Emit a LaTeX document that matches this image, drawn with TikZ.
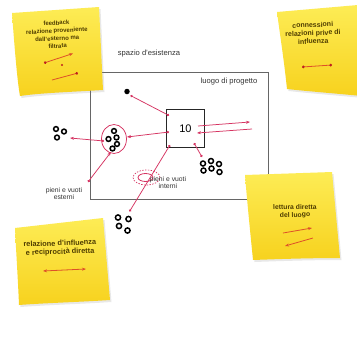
\documentclass[tikz,border=0pt]{standalone}
\usepackage{fontspec}
\setmainfont{Liberation Sans}
\usetikzlibrary{arrows.meta,shadows,shapes.geometric}
\definecolor{pk}{RGB}{214,52,98}
\definecolor{ntop}{RGB}{253,236,85}
\definecolor{nbot}{RGB}{247,210,30}
\definecolor{ntext}{RGB}{78,60,0}
\definecolor{nline}{RGB}{222,80,40}
\definecolor{ndot}{RGB}{190,30,30}
\begin{document}
\begin{tikzpicture}[x=1pt,y=-1pt,
  note/.style={top color=ntop,bottom color=nbot,draw=none,
    drop shadow={opacity=0.18,shadow xshift=1.5pt,shadow yshift=-2pt}},
  notetext/.style={align=center,text=ntext,inner sep=0pt,
    font=\fontsize{6.8}{7.6}\selectfont\bfseries},
  label/.style={text=black!80,inner sep=0pt,font=\fontsize{7.6}{8}\selectfont},
  small/.style={text=black!80,inner sep=0pt,align=center,font=\fontsize{6.8}{7.4}\selectfont},
  rl/.style={draw=pk,line width=0.75pt},
  nl/.style={draw=nline,line width=0.8pt},
  ring/.style={draw=black,line width=1.5pt},
  tipdot/.tip={Circle[length=2.4pt]},
  tiparr/.tip={Stealth[length=4pt,width=3pt]}]
\useasboundingbox (0,0) rectangle (357,341);
\fill[white] (0,0) rectangle (357,341);

% frame of the site
\node[draw=black!60,line width=1pt,minimum width=178pt,minimum height=127pt,
  anchor=north west,inner sep=0pt] (luogo) at (90,72) {};
\node[label] (ltxt) at (229,82) {luogo di progetto};
\node[label] (spazio) at (149,54) {spazio d'esistenza};

% central square
\node[draw=black!85,line width=1.5pt,minimum size=38pt,inner sep=0pt] (sq) at (185.5,128.5)
  {\fontsize{11}{11}\selectfont 10};

% ellipse cluster
\node[ellipse,rl,minimum width=25pt,minimum height=29pt,inner sep=0pt] (ell) at (114,139) {};
\foreach \p in {(114,131),(108.5,139),(116.5,137.5),(117,144),(112.5,148.5)}
  \draw[ring] \p circle (2.4);

% dashed ellipse (internal)
\node[ellipse,draw=pk,line width=0.7pt,dash pattern=on 1.4pt off 1.4pt,
  minimum width=27pt,minimum height=15pt,inner sep=0pt] (dell) at (146.5,177.5) {};
\node[ellipse,draw=pk,line width=0.8pt,minimum width=15pt,minimum height=8pt,inner sep=0pt] (iell) at (145.5,177.5) {};
\node[small] (inttxt) at (168,182.5) {pieni e vuoti\\interni};

% other clusters
\node[circle,fill=black,inner sep=0pt,minimum size=5.5pt] (topdot) at (127,91.5) {};
\foreach \p in {(56,129),(64,131.5),(57,137.5)} \draw[ring] \p circle (2.4);
\foreach \p in {(118,217.5),(128.5,219),(119,226),(127.5,230.5)} \draw[ring] \p circle (2.6);
\foreach \p in {(203,163.5),(211,161),(219,164),(203.5,170.5),(211.5,168.5),(219.5,172)}
  \draw[ring] \p circle (2.5);
\node[small] (esttxt) at (64,193.5) {pieni e vuoti\\esterni};

% connector end points
\coordinate (sqTL) at (169,115.5);
\coordinate (sqL) at (169,132);
\coordinate (sqBL) at (170,145);
\coordinate (sqB) at (194,143);
\coordinate (dotend) at (130.5,95.5);
\coordinate (ellR) at (127,137);
\coordinate (ellL) at (104,141);
\coordinate (ellB) at (111,152);
\coordinate (outL) at (70,138);
\coordinate (estend) at (88,182);
\coordinate (belowend) at (129.5,211.5);
\coordinate (rcend) at (202,157);
\coordinate (upA) at (198,126);
\coordinate (upB) at (250,122);
\coordinate (loA) at (252,129);
\coordinate (loB) at (197,133);

\draw[rl,{tipdot}-{tipdot}] (sqTL) -- (dotend);
\draw[rl,{tipdot}-{tiparr}] (sqL) -- (ellR);
\draw[rl,{tipdot}-{tiparr}] (ellL) -- (outL);
\draw[rl,{tiparr}-{tipdot}] (ellB) -- (estend);
\draw[rl,{tipdot}-{tipdot}] (sqBL) -- (belowend);
\draw[rl,{tipdot}-{tipdot}] (sqB) -- (rcend);
\draw[rl,-{tiparr}] (upA) -- (upB);
\draw[rl,-{tiparr}] (loA) -- (loB);

% ---- post-it notes ----
% top left
\path[note] (12,13) -- (99,7) -- (103,90) .. controls (70,92) and (40,93) .. (20,96)
  .. controls (17,80) and (14,40) .. cycle;
\node[notetext,rotate=3,font=\fontsize{6}{7.7}\selectfont\bfseries] (n1) at (57,34.5)
  {feedback\\relazione proveniente\\dall'esterno ma\\filtrata};
\coordinate (n1a) at (44,63); \coordinate (n1b) at (73,53.5);
\coordinate (n1c) at (52,80); \coordinate (n1d) at (78,73);
\draw[nl,{tiparr}-{Circle[length=2.6pt,color=ndot]}] (n1b) -- (n1a);
\draw[nl,-{Circle[length=2.6pt,color=ndot]}] (n1c) -- (n1d);
\fill[ndot] (62,65) circle (1.1);

% top right
\path[note] (277,12) -- (358,5) -- (362,96) .. controls (330,93) and (305,91) .. (287,89)
  .. controls (284,60) and (280,35) .. cycle;
\node[notetext,rotate=2,font=\fontsize{7}{8.2}\selectfont\bfseries] (n2) at (313,33)
  {connessioni\\relazioni prive di\\influenza};
\coordinate (n2a) at (302,67); \coordinate (n2b) at (332,65);
\draw[nl,{Circle[length=2.6pt,color=ndot]}-{Circle[length=2.6pt,color=ndot]}] (n2a) -- (n2b);

% bottom right
\path[note] (245,175) -- (332,172) -- (340,258) .. controls (310,258) and (280,259) .. (253,260)
  .. controls (250,230) and (247,200) .. cycle;
\node[notetext,rotate=1] (n3) at (295,211.5) {lettura diretta\\del luogo};
\coordinate (n3a) at (283,233); \coordinate (n3b) at (312,228);
\coordinate (n3c) at (313,238); \coordinate (n3d) at (285,246);
\draw[nl,-{tiparr}] (n3a) -- (n3b);
\draw[nl,-{tiparr}] (n3c) -- (n3d);

% bottom left
\path[note] (15,228) -- (103,218) -- (110,300) .. controls (80,302) and (45,303) .. (19,305)
  .. controls (18,280) and (16,250) .. cycle;
\node[notetext,rotate=2,font=\fontsize{7.4}{8.4}\selectfont\bfseries] (n4) at (60,248)
  {relazione d'influenza\\e reciprocità diretta};
\coordinate (n4a) at (43,271); \coordinate (n4b) at (86,269);
\draw[nl,{tiparr}-{tiparr}] (n4a) -- (n4b);
\end{tikzpicture}
\end{document}
